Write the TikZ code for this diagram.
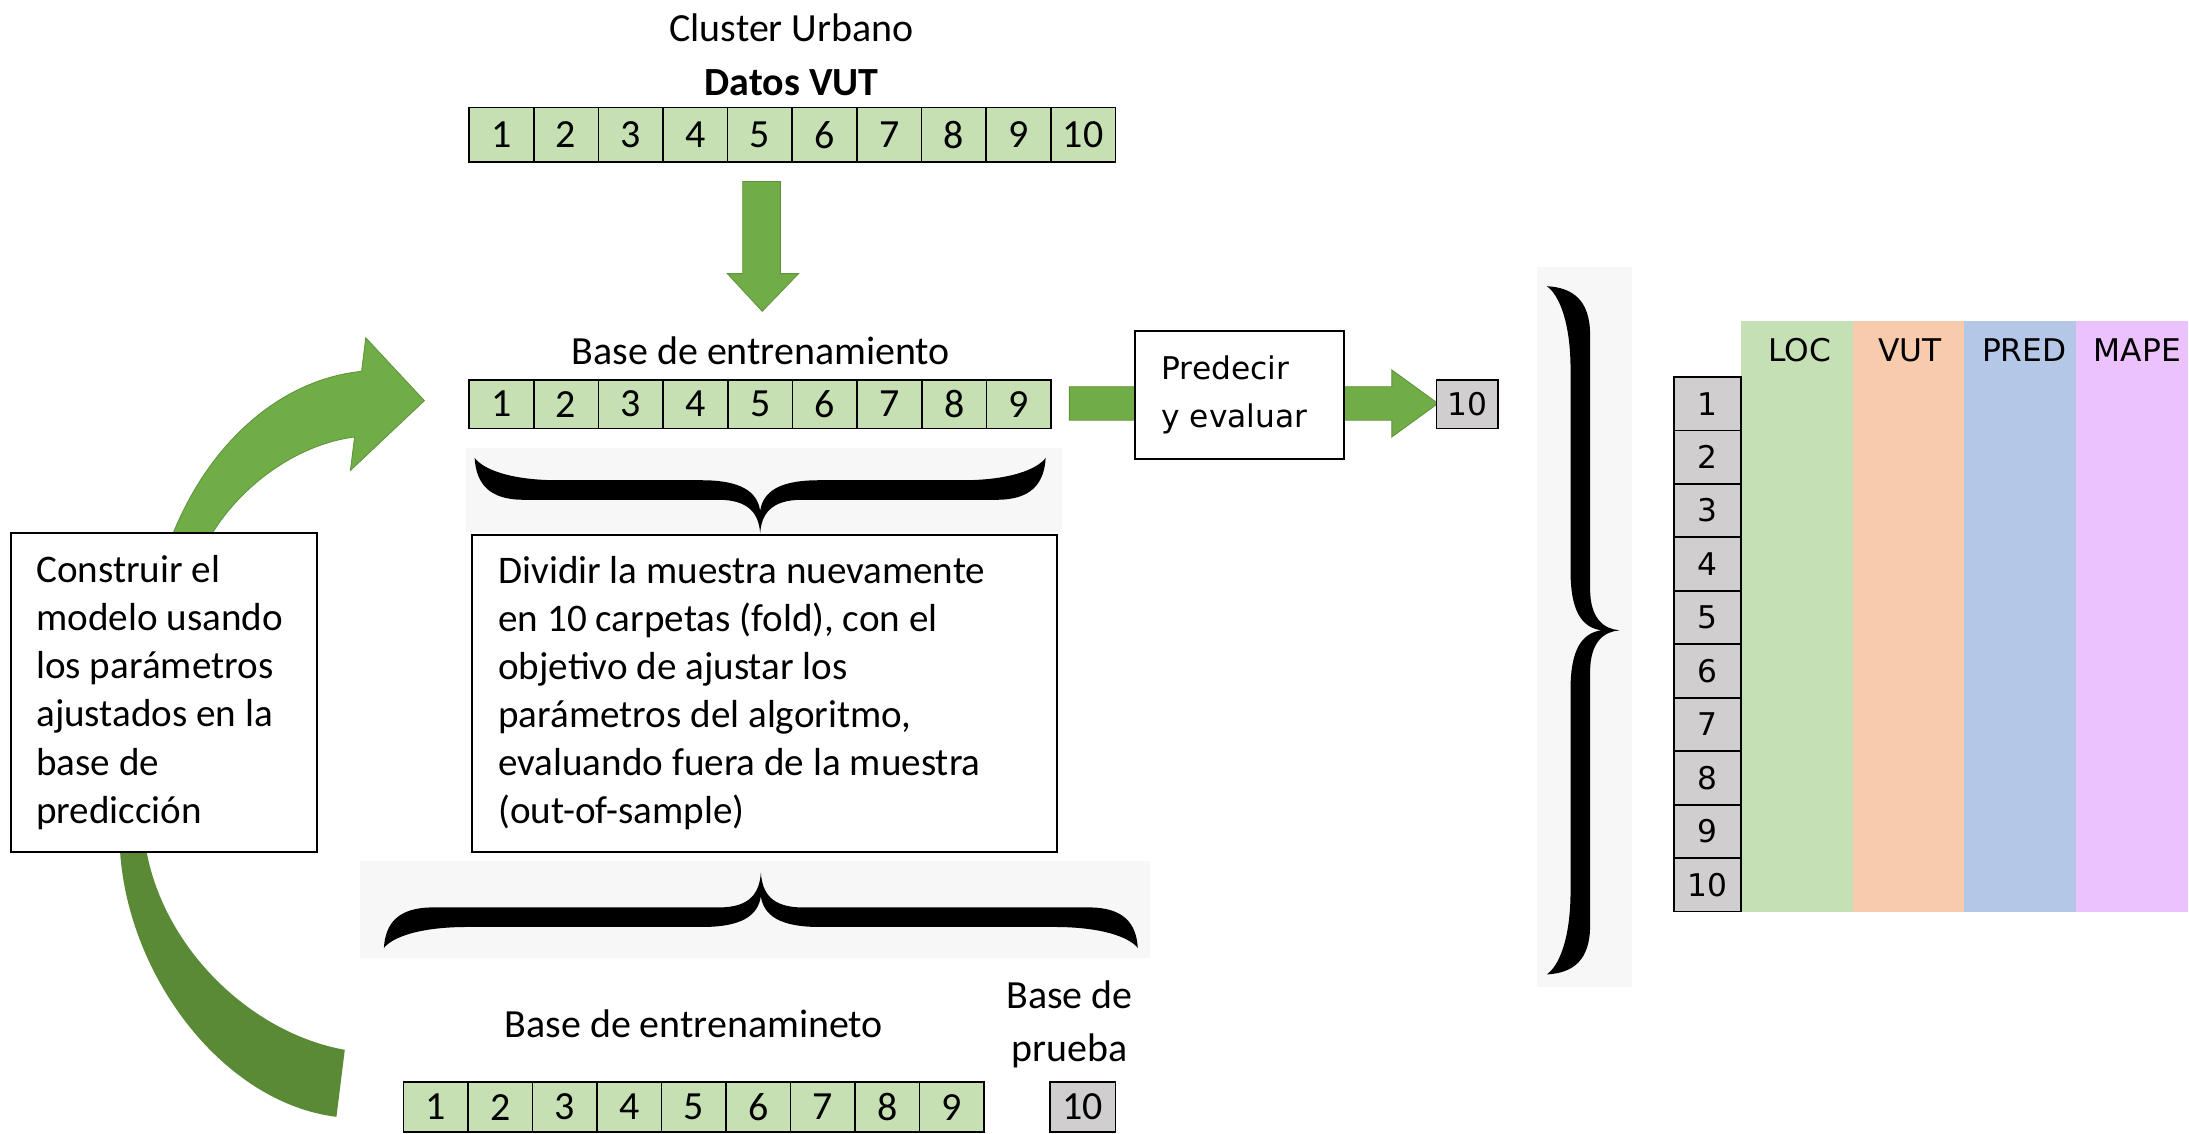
\documentclass[tikz,border=0pt]{standalone}
\usepackage{fontspec}
\setmainfont{Carlito}
\newfontfamily\dvsans{DejaVu Sans}
\definecolor{cellgreen}{HTML}{C6E0B4}
\definecolor{cellgray}{HTML}{D0CECE}
\definecolor{arrowgreen}{HTML}{70AD47}
\definecolor{arrowdark}{HTML}{5A8A36}
\definecolor{loccol}{HTML}{C5E0B4}
\definecolor{vutcol}{HTML}{F8CBAD}
\definecolor{predcol}{HTML}{B4C7E7}
\definecolor{mapecol}{HTML}{ECC2FC}
\definecolor{bracebg}{HTML}{F7F7F7}

% calligraphic brace: length, depth to the cusp, bar centre, bar thickness
\newcommand\calbrace[4]{%
  \pgfmathsetmacro\brHalf{#1/2}%
  \pgfmathsetmacro\brLo{#3+#4/2}%
  \pgfmathsetmacro\brUp{#3-#4/2}%
  \pgfmathsetmacro\brLen{#1}%
  \pgfmathsetmacro\brDep{#2}%
  \fill[black] (0,0) .. controls (1,{0.6*\brLo}) and (10,\brLo) .. (35,\brLo)
    -- ({\brHalf-30},\brLo) .. controls ({\brHalf-8},\brLo) and ({\brHalf-1},{\brLo+10}) .. (\brHalf,\brDep)
    .. controls ({\brHalf+1},{\brLo+10}) and ({\brHalf+8},\brLo) .. ({\brHalf+30},\brLo)
    -- ({\brLen-35},\brLo) .. controls ({\brLen-10},\brLo) and ({\brLen-1},{0.6*\brLo}) .. (\brLen,0)
    .. controls ({\brLen-6},{0.5*\brUp}) and ({\brLen-25},\brUp) .. ({\brLen-60},\brUp)
    -- ({\brHalf+42},\brUp) .. controls ({\brHalf+14},\brUp) and ({\brHalf+2},{\brUp+8}) .. (\brHalf,{\brLo+8})
    .. controls ({\brHalf-2},{\brUp+8}) and ({\brHalf-14},\brUp) .. ({\brHalf-42},\brUp)
    -- (60,\brUp) .. controls (25,\brUp) and (6,{0.5*\brUp}) .. (0,0) -- cycle;
}

\begin{document}
\begin{tikzpicture}[x=0.5pt,y=-0.5pt,
  every node/.style={inner sep=0pt, outer sep=0pt},
  cal/.style={font=\fontsize{14.3}{17.25}\selectfont},
  boxtext/.style={font=\fontsize{14}{17.25}\selectfont, align=left, anchor=west},
  dvs/.style={font=\dvsans\fontsize{11.2}{17}\selectfont},
  cellg/.style={draw=black, line width=0.6pt, fill=cellgreen, cal},
  cellt/.style={draw=black, line width=0.6pt, fill=cellgray},
  textbox/.style={draw=black, line width=0.7pt, fill=white, anchor=north west},
  blockarrow/.style={fill=arrowgreen, draw=arrowgreen!85!black, line width=0.3pt},
  band/.style={anchor=north west, minimum width=40pt, minimum height=211.5pt}]

\useasboundingbox (0,0) rectangle (1568,812);
\fill[white] (0,0) rectangle (1568,812);

% titles
\node[cal] (cluster) at (567,20) {Cluster Urbano};
\node[cal, font=\fontsize{14.3}{17.25}\selectfont\bfseries] (datos) at (567,59) {Datos VUT};

% full data row
\foreach \i in {1,...,10}
  \node[cellg, minimum width=23.15pt, minimum height=19.5pt] (a\i) at ({336+(\i-0.5)*46.3},96.5) {\i};

% down arrow
\path[blockarrow] (532,130) -- (559,130) -- (559,196) -- (572,196) -- (546,223)
  -- (521,196) -- (532,196) -- cycle;

% training row
\node[cal] (trainlbl) at (545,251) {Base de entrenamiento};
\foreach \i in {1,...,9}
  \node[cellg, minimum width=23.17pt, minimum height=17.5pt] (b\i) at ({336+(\i-0.5)*46.33},289.5) {\i};

% arrow through the prediction box
\path[blockarrow] (766,277) -- (997,277) -- (997,265) -- (1030,289) -- (997,313)
  -- (997,301) -- (766,301) -- cycle;
\node[textbox, minimum width=75pt, minimum height=46pt] (predict) at (813,237) {};
\node[dvs, align=left, anchor=west] (predicttxt) at ([xshift=9.5pt]predict.west) {Predecir\\y evaluar};
\node[cellt, dvs, minimum width=22pt, minimum height=17.5pt] (test1) at (1051,289.5) {10};

% brace under the training row
\fill[bracebg] (334,321) rectangle (761,381);
\begin{scope}[shift={(340,328)}]
  \calbrace{409}{54}{23}{14}
\end{scope}

% inner cross-validation text
\node[textbox, minimum width=209.5pt, minimum height=113.5pt] (divide) at (338,383) {};
\node[boxtext] (dividetxt) at ([xshift=9.5pt]divide.west) {Dividir la muestra nuevamente\\en 10 carpetas (fold), con el\\objetivo de ajustar los\\parámetros del algoritmo,\\evaluando fuera de la muestra\\(out-of-sample)};

% brace above the split row
\fill[bracebg] (258,617) rectangle (824,686);
\begin{scope}[shift={(275,679)}, yscale=-1]
  \calbrace{540}{54}{22}{14}
\end{scope}

% split row
\node[cal] (trainlbl2) at (497,733) {Base de entrenamineto};
\node[cal, align=center, font=\fontsize{14.3}{19}\selectfont] (testlbl) at (766,734) {Base de\\prueba};
\foreach \i in {1,...,9}
  \node[cellg, minimum width=23.1pt, minimum height=18pt] (c\i) at ({289+(\i-0.5)*46.2},793) {\i};
\node[cellt, cal, minimum width=23.5pt, minimum height=18pt] (c10) at (775.5,793) {10};

% curved loop arrow (back part darker)
\path[fill=arrowdark] (80,560) -- (86,610) .. controls (92,700) and (160,790) .. (241,800)
  -- (247,752) .. controls (180,740) and (118,680) .. (105,610) -- (100,560) -- cycle;
\path[blockarrow] (118,430) -- (124,382) .. controls (150,318) and (200,272) .. (259,266)
  -- (262,242) -- (304,287) -- (251,337) -- (254,313)
  .. controls (215,318) and (175,345) .. (152,382) -- (146,430) -- cycle;

\node[textbox, minimum width=109.5pt, minimum height=114pt] (build) at (8,382) {};
\node[boxtext] (buildtxt) at ([xshift=9pt]build.west) {Construir el\\modelo usando\\los parámetros\\ajustados en la\\base de\\predicción};

% big brace before the results table
\fill[bracebg] (1101,191) rectangle (1169,707);
\begin{scope}[shift={(1108,205)}, yscale=-1, rotate=90]
  \calbrace{493}{52}{24}{14}
\end{scope}

% results table
\node[band, fill=loccol] (loc) at (1247,230) {};
\node[band, fill=vutcol] (vut) at (1327,230) {};
\node[band, fill=predcol] (pred) at (1407,230) {};
\node[band, fill=mapecol] (mape) at (1487,230) {};
\node[dvs] (loch) at (1289,251) {LOC};
\node[dvs] (vuth) at (1368,251) {VUT};
\node[dvs] (predh) at (1450,251) {PRED};
\node[dvs] (mapeh) at (1531,251) {MAPE};
\foreach \i in {1,...,10}
  \node[cellt, dvs, minimum width=24pt, minimum height=19.15pt] (t\i) at (1223,{270+(\i-0.5)*38.3}) {\i};

\end{tikzpicture}
\end{document}
